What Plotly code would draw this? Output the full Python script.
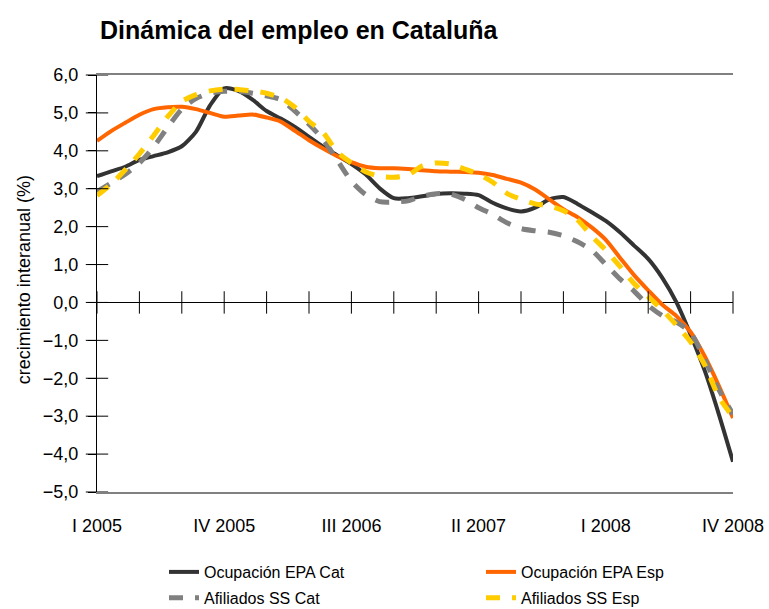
import plotly.graph_objects as go

# Monthly positions (month index from Jan 2005 to Oct 2008 on a quarterly axis)
months = list(range(46))
quarter_marks = list(range(0, 46, 3))
tick_vals = [0, 9, 18, 27, 36, 45]
tick_text = ["I 2005", "IV 2005", "III 2006", "II 2007", "I 2008", "IV 2008"]
y_ticks = [-5, -4, -3, -2, -1, 0, 1, 2, 3, 4, 5, 6]

epa_cat = [3.33, 3.46, 3.58, 3.76, 3.86, 3.96, 4.12, 4.50, 5.20, 5.65, 5.58, 5.35,
           5.05, 4.85, 4.63, 4.37, 4.11, 3.88, 3.65, 3.38, 3.01, 2.75, 2.75, 2.80,
           2.86, 2.88, 2.87, 2.83, 2.63, 2.48, 2.40, 2.50, 2.72, 2.78, 2.60, 2.38,
           2.15, 1.85, 1.50, 1.15, 0.65, 0.00, -0.85, -1.80, -2.95, -4.20]
epa_esp = [4.26, 4.52, 4.74, 4.95, 5.10, 5.15, 5.16, 5.10, 5.00, 4.90, 4.93, 4.96,
           4.88, 4.77, 4.53, 4.28, 4.06, 3.86, 3.70, 3.58, 3.54, 3.54, 3.52, 3.49,
           3.46, 3.45, 3.44, 3.42, 3.36, 3.26, 3.16, 2.98, 2.72, 2.46, 2.25, 1.98,
           1.65, 1.18, 0.72, 0.32, -0.06, -0.36, -0.78, -1.42, -2.20, -3.05]
ss_cat = [2.92, 3.15, 3.38, 3.68, 4.10, 4.62, 5.10, 5.38, 5.52, 5.57, 5.57, 5.52,
          5.45, 5.35, 5.05, 4.70, 4.30, 3.75, 3.20, 2.85, 2.66, 2.65, 2.68, 2.80,
          2.87, 2.86, 2.72, 2.50, 2.32, 2.10, 1.95, 1.89, 1.85, 1.76, 1.60, 1.38,
          1.00, 0.62, 0.30, -0.08, -0.35, -0.52, -0.80, -1.50, -2.30, -2.95]
ss_esp = [2.82, 3.12, 3.50, 3.92, 4.40, 4.90, 5.30, 5.48, 5.58, 5.63, 5.62, 5.58,
          5.52, 5.40, 5.15, 4.78, 4.48, 3.97, 3.68, 3.45, 3.33, 3.30, 3.36, 3.60,
          3.68, 3.65, 3.52, 3.38, 3.17, 2.88, 2.72, 2.60, 2.55, 2.42, 2.18, 1.75,
          1.38, 0.95, 0.50, 0.15, -0.20, -0.60, -1.04, -1.65, -2.50, -3.02]

names = ["Ocupación EPA Cat", "Ocupación EPA Esp", "Afiliados SS Cat", "Afiliados SS Esp"]
colors = ["#333333", "#FF6600", "#808080", "#FFCC00"]
series = [epa_cat, epa_esp, ss_cat, ss_esp]
dashes = ["solid", "solid", "14px,12px", "14px,12px"]
widths = [4, 4, 5, 5]
legends = ["legend", "legend2", "legend", "legend2"]
y_title = "crecimiento interanual (%)"

FONT = "Liberation Sans, Arial, sans-serif"

fig = go.Figure()
for name, vals, col, dsh, w, lg in zip(names, series, colors, dashes, widths, legends):
    fig.add_trace(go.Scatter(
        x=months, y=vals, name=name, mode="lines", legend=lg, legendgroup=name,
        line=dict(color=col, width=w, dash=dsh, shape="spline", smoothing=0.7),
        hoverinfo="skip"))

# crossing tick marks on the zero line (one per quarter)
fig.add_trace(go.Scatter(
    x=quarter_marks, y=[0] * len(quarter_marks), mode="markers", showlegend=False,
    marker=dict(symbol="line-ns", size=16, color="black",
                line=dict(width=1, color="black")),
    cliponaxis=False, hoverinfo="skip"))
# crossing tick marks on the value axis
fig.add_trace(go.Scatter(
    x=[0] * len(y_ticks), y=y_ticks, mode="markers", showlegend=False,
    marker=dict(symbol="line-ew", size=16, color="black",
                line=dict(width=1, color="black")),
    cliponaxis=False, hoverinfo="skip"))

legend_common = dict(orientation="v", yanchor="top", xanchor="left",
                     xref="container", yref="container", tracegroupgap=2,
                     font=dict(family=FONT, size=16, color="black"),
                     bgcolor="rgba(0,0,0,0)")

fig.update_layout(
    width=769, height=609,
    margin=dict(l=97, r=36, t=75, b=117, autoexpand=False),
    paper_bgcolor="white", plot_bgcolor="white",
    separators=",.",
    font=dict(family=FONT, color="black", size=18),
    title=dict(text="<b>Dinámica del empleo en Cataluña</b>",
               font=dict(family=FONT, size=25, color="black"),
               x=100 / 769, xanchor="left", xref="container",
               y=1 - 30 / 609, yanchor="middle", yref="container"),
    xaxis=dict(range=[0, 45], tickvals=tick_vals, ticktext=tick_text,
               showgrid=False, zeroline=False, ticks="",
               showline=True, linecolor="#808080", linewidth=2, mirror=True,
               ticklabelstandoff=16, tickfont=dict(size=18)),
    yaxis=dict(range=[-5, 6], tickvals=y_ticks, tickformat=".1f",
               showgrid=False, zeroline=True, zerolinecolor="black", zerolinewidth=1,
               showline=True, linecolor="black", linewidth=1,
               ticks="outside", ticklen=8, tickcolor="black", ticklabelstandoff=6,
               tickfont=dict(size=18)),
    yaxis2=dict(range=[-5, 6], overlaying="y", side="right", showline=True,
                linecolor="#808080", linewidth=2, showticklabels=False,
                showgrid=False, zeroline=False, ticks=""),
    legend=dict(x=164 / 769, y=1 - 555 / 609, **legend_common),
    legend2=dict(x=481 / 769, y=1 - 555 / 609, **legend_common),
    showlegend=True,
    annotations=[dict(text=y_title, textangle=-90, xref="paper", yref="paper",
                      x=(24 - 97) / 636, y=0.508, xanchor="center", yanchor="middle",
                      showarrow=False, font=dict(family=FONT, size=18, color="black"))],
)

fig.write_html("out.html",
               config={"displayModeBar": False},
               post_script="document.body.style.margin='0';")
